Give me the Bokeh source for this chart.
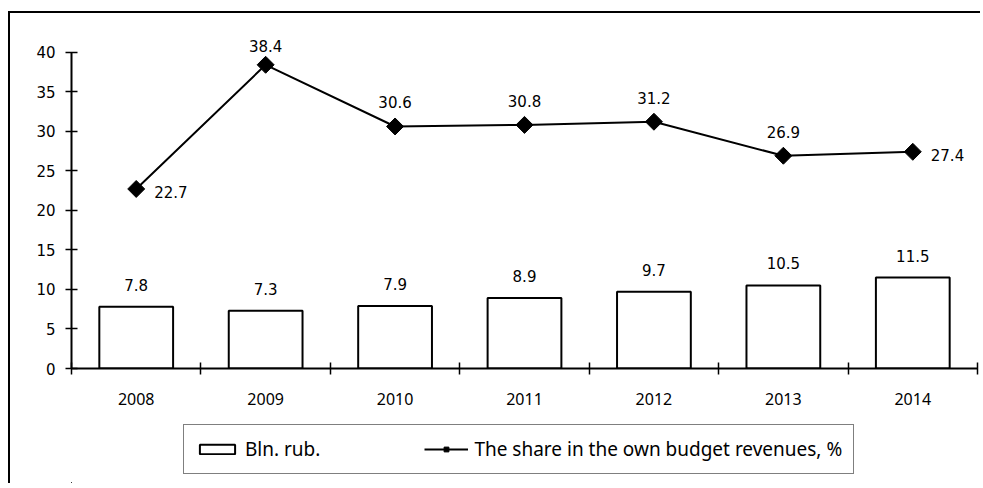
from bokeh.plotting import figure
from bokeh.layouts import column
from bokeh.models import (FixedTicker, Legend, LegendItem, ColumnDataSource,
                          Range1d, CDSView, IndexFilter)
from bokeh.core.properties import value
from bokeh.embed import file_html
from bokeh.resources import INLINE

# ---- data ----
years = ["2008", "2009", "2010", "2011", "2012", "2013", "2014"]
bln_rub = [7.8, 7.3, 7.9, 8.9, 9.7, 10.5, 11.5]
share = [22.7, 38.4, 30.6, 30.8, 31.2, 26.9, 27.4]
y_ticks = [0, 5, 10, 15, 20, 25, 30, 35, 40]

xpos = [i + 0.5 for i in range(len(years))]

src = ColumnDataSource(dict(
    x=xpos, bln=bln_rub, share=share,
    bln_txt=[f"{v:.1f}" for v in bln_rub],
    share_txt=[f"{v:.1f}" for v in share],
))

FONT = "DejaVu Sans"
LFONT = "Noto Sans"

p = figure(width=970, height=410, output_backend="svg", toolbar_location=None,
           x_range=Range1d(0, len(years)), y_range=Range1d(0, 44),
           min_border_left=61, min_border_right=3, min_border_top=7,
           min_border_bottom=55)
p.outline_line_color = None
p.grid.visible = False

# bars
bar_style = dict(width=0.57, fill_color="white", line_color="black", line_width=2)
p.vbar(x="x", top="bln", source=src, **bar_style)
p.text(x="x", y="bln", text="bln_txt", source=src, text_align="center",
       text_baseline="middle", y_offset=-22, text_font=value(FONT),
       text_font_size="15px", text_color="black")

# line
line_style = dict(line_color="black", line_width=2)
mark_style = dict(marker="square", size=12, angle=0.785398,
                  fill_color="black", line_color="black")
p.line(x="x", y="share", source=src, **line_style)
p.scatter(x="x", y="share", source=src, **mark_style)

label_kw = dict(x="x", y="share", text="share_txt", source=src,
                text_baseline="middle", text_font=value(FONT),
                text_font_size="15px", text_color="black")
p.text(view=CDSView(filter=IndexFilter([2, 3, 4, 5])), text_align="center",
       y_offset=-24, **label_kw)
p.text(view=CDSView(filter=IndexFilter([1])), text_align="center",
       y_offset=-19, **label_kw)
p.text(view=CDSView(filter=IndexFilter([0, 6])), text_align="left",
       x_offset=18, y_offset=3, **label_kw)

# axes
xa = p.xaxis[0]
xa.ticker = FixedTicker(ticks=xpos, minor_ticks=list(range(len(years) + 1)))
xa.major_label_overrides = {x: y for x, y in zip(xpos, years)}
xa.major_tick_in = 0
xa.major_tick_out = 0
xa.minor_tick_in = 6
xa.minor_tick_out = 6
xa.minor_tick_line_color = "black"
xa.minor_tick_line_width = 1.5
xa.axis_line_width = 2
xa.axis_line_color = "black"
xa.major_label_standoff = 18
xa.major_label_text_font = LFONT
xa.major_label_text_font_size = "16px"
xa.major_label_text_color = "black"

ya = p.yaxis[0]
ya.ticker = FixedTicker(ticks=y_ticks)
ya.bounds = (0, 40)
ya.major_tick_in = 6
ya.major_tick_out = 6
ya.minor_tick_line_color = None
ya.major_tick_line_width = 1.5
ya.axis_line_width = 2
ya.axis_line_color = "black"
ya.major_label_standoff = 10
ya.major_label_text_font = FONT
ya.major_label_text_font_size = "15px"
ya.major_label_text_color = "black"

# ---- legend strip (separate figure; its ranges keep the series off-frame) ----
pl = figure(width=970, height=60, output_backend="svg", toolbar_location=None,
            x_range=Range1d(100, 101), y_range=Range1d(100, 101),
            x_axis_location=None, y_axis_location=None,
            min_border_left=0, min_border_right=0, min_border_top=0,
            min_border_bottom=0)
pl.outline_line_color = None
pl.grid.visible = False
lb = pl.vbar(x="x", top="bln", source=src, **bar_style)
ll = pl.line(x="x", y="share", source=src, **line_style)
lm = pl.scatter(x="x", y="share", source=src, **mark_style)

legend = Legend(items=[
    LegendItem(label="Bln. rub.", renderers=[lb]),
    LegendItem(label="The share in the own budget revenues, %", renderers=[ll, lm]),
], orientation="horizontal", location=(112, 9))
legend.label_text_font = LFONT
legend.label_text_font_size = "19px"
legend.label_text_color = "black"
legend.border_line_color = "black"
legend.border_line_width = 1
legend.glyph_width = 44
legend.glyph_height = 12
legend.spacing = 104
legend.padding = 11
legend.margin = 0
legend.label_standoff = 6
pl.add_layout(legend)

root = column(p, pl, spacing=0,
              styles={"margin-left": "8px", "margin-top": "11px",
                      "border-left": "2px solid black",
                      "border-top": "2px solid black"})
open("out.html", "w").write(file_html(root, INLINE))
